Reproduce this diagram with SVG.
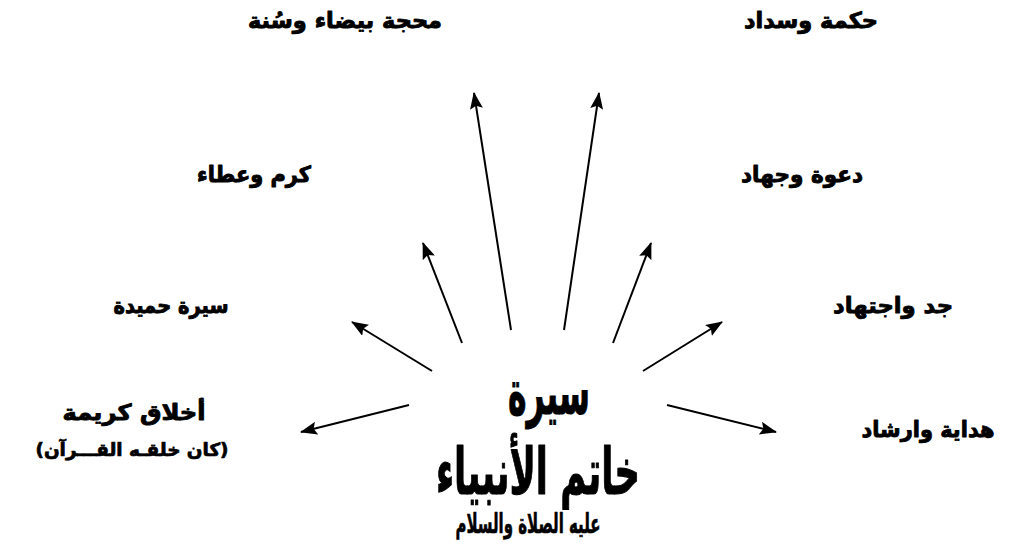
<svg xmlns="http://www.w3.org/2000/svg" width="1026" height="556" viewBox="0 0 1026 556">
<style>
.lbl{font-family:"DejaVu Sans",sans-serif;font-weight:bold;font-size:22px;fill:#000;stroke:#000;stroke-width:0.9px;stroke-linejoin:round;text-anchor:middle}
.sm{font-size:18px;stroke-width:0.7px}
.big{font-family:"DejaVu Sans Condensed","DejaVu Sans",sans-serif;font-weight:bold;fill:#000;stroke:#000;stroke-linejoin:round;text-anchor:middle}
.arr{stroke:#000;stroke-width:2;fill:none;marker-end:url(#ah)}
</style>
<defs>
<marker id="ah" markerUnits="userSpaceOnUse" markerWidth="17" markerHeight="13" refX="16" refY="6.5" orient="auto">
<path d="M0,0 L17,6.5 L0,13 L3,6.5 z" fill="#000"/>
</marker>
</defs>
<rect width="1026" height="556" fill="#fff"/>
<g id="connectors">
<line class="arr" x1="511" y1="330" x2="474" y2="93"/>
<line class="arr" x1="564" y1="330" x2="599" y2="93"/>
<line class="arr" x1="462" y1="343" x2="423" y2="243"/>
<line class="arr" x1="613" y1="343" x2="651" y2="243"/>
<line class="arr" x1="432" y1="371" x2="352" y2="322"/>
<line class="arr" x1="643" y1="371" x2="722" y2="322"/>
<line class="arr" x1="409" y1="405" x2="301" y2="432"/>
<line class="arr" x1="667" y1="405" x2="776" y2="432"/>
</g>
<g id="center">
<text class="big" x="549" y="414" font-size="62" stroke-width="1" textLength="82" lengthAdjust="spacingAndGlyphs">سيرة</text>
<text class="big" x="538" y="494" font-size="64" stroke-width="1" textLength="204" lengthAdjust="spacingAndGlyphs">خاتم الأنبياء</text>
<text class="big" x="528" y="533" font-size="27" stroke-width="0.6" textLength="145" lengthAdjust="spacingAndGlyphs">عليه الصلاة والسلام</text>
</g>
<g id="n1"><text class="lbl" x="345" y="28" textLength="194" lengthAdjust="spacingAndGlyphs">محجة بيضاء وسُنة</text></g>
<g id="n2"><text class="lbl" x="811" y="28" textLength="134" lengthAdjust="spacingAndGlyphs">حكمة وسداد</text></g>
<g id="n3"><text class="lbl" x="254" y="182" textLength="114" lengthAdjust="spacingAndGlyphs">كرم وعطاء</text></g>
<g id="n4"><text class="lbl" x="802" y="182" textLength="122" lengthAdjust="spacingAndGlyphs">دعوة وجهاد</text></g>
<g id="n5"><text class="lbl" x="171" y="313" textLength="115" lengthAdjust="spacingAndGlyphs">سيرة حميدة</text></g>
<g id="n6"><text class="lbl" x="893" y="313" textLength="120" lengthAdjust="spacingAndGlyphs">جد واجتهاد</text></g>
<g id="n7">
<text class="lbl" x="134" y="420" textLength="143" lengthAdjust="spacingAndGlyphs">أخلاق كريمة</text>
<text class="lbl sm" x="132" y="456" direction="rtl" textLength="193" lengthAdjust="spacingAndGlyphs">(كان خلقـه القـــرآن)</text>
</g>
<g id="n8"><text class="lbl" x="928" y="437" textLength="133" lengthAdjust="spacingAndGlyphs">هداية وارشاد</text></g>
</svg>
